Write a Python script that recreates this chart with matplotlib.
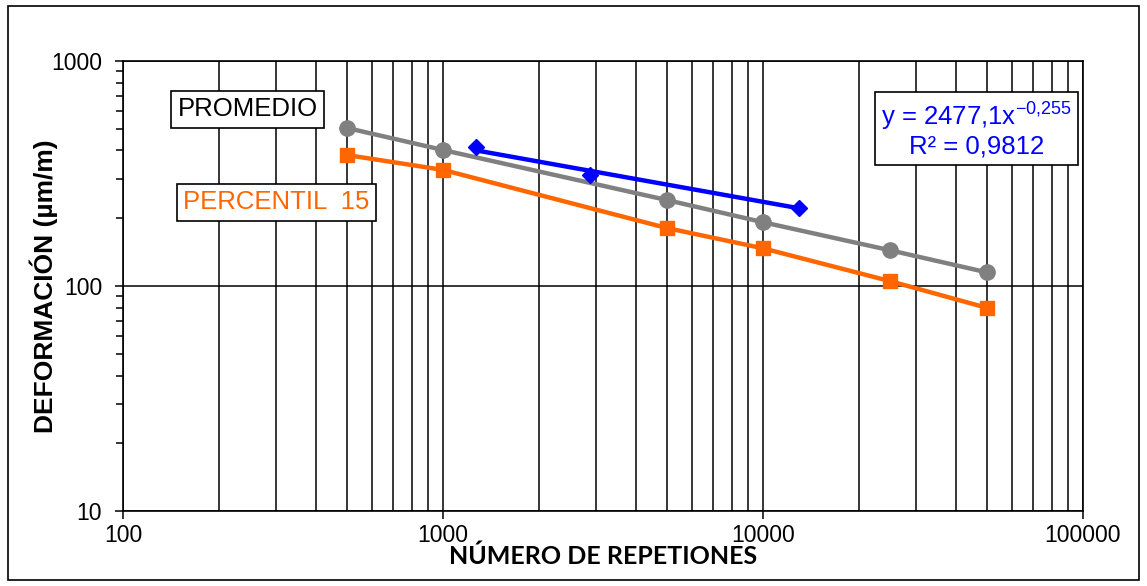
import matplotlib
matplotlib.use('Agg')
import matplotlib.pyplot as plt
import numpy as np
from matplotlib.ticker import FixedLocator, LogLocator, NullFormatter

plt.rcParams['font.family'] = ['Liberation Sans', 'DejaVu Sans']
plt.rcParams['mathtext.fontset'] = 'custom'
plt.rcParams['mathtext.rm'] = 'Liberation Sans'
plt.rcParams['mathtext.default'] = 'regular'

# data
ciclos = [500, 1000, 5000, 10000, 25000, 50000]
promedio = [504, 402, 241, 192, 144, 115]
percentil15 = [382, 328, 181, 147, 105, 80]

ciclos_ajuste = [1268, 2878, 13000]
def_ajuste = [415, 311, 222]
coef_a, coef_b = 2477.1, -0.255   # trendline from the chart label

fig = plt.figure(figsize=(11.47, 5.86), dpi=100)
ax = fig.add_axes([0.1072, 0.128, 0.837, 0.768])

# outer frame round the whole chart
fig.patches.append(plt.Rectangle((0.007, 0.01), 0.986, 0.98, transform=fig.transFigure,
                                 fill=False, edgecolor='black', lw=1.2))

ax.set_xscale('log')
ax.set_yscale('log')
ax.set_xlim(100, 100000)
ax.set_ylim(10, 1000)

ax.xaxis.set_major_locator(FixedLocator([100, 1000, 10000, 100000]))
ax.xaxis.set_minor_locator(LogLocator(base=10, subs=np.arange(2, 10)))
ax.xaxis.set_minor_formatter(NullFormatter())
ax.set_xticklabels(['100', '1000', '10000', '100000'])
ax.yaxis.set_major_locator(FixedLocator([10, 100, 1000]))
ax.yaxis.set_minor_locator(LogLocator(base=10, subs=np.arange(2, 10)))
ax.yaxis.set_minor_formatter(NullFormatter())
ax.set_yticklabels(['10', '100', '1000'])

ax.grid(True, which='major', axis='both', color='black', lw=1.1)
ax.grid(True, which='minor', axis='x', color='black', lw=1.1)
ax.tick_params(axis='both', which='major', labelsize=16.5, length=6, direction='out', width=1.1)
ax.tick_params(axis='y', which='major', pad=9)
ax.tick_params(axis='y', which='minor', length=5, direction='out', width=1.1)
ax.tick_params(axis='x', which='minor', length=0)
for s in ax.spines.values():
    s.set_linewidth(1.2)
ax.set_axisbelow(True)

ax.plot(ciclos, promedio, color='#808080', lw=3.2, marker='o', ms=11, zorder=3)
ax.plot(ciclos, percentil15, color='#FF6600', lw=3.2, marker='s', ms=10, zorder=3)

xs = np.array([ciclos_ajuste[0], ciclos_ajuste[-1]])
ax.plot(xs, coef_a * xs ** coef_b, color='#0000FF', lw=3.2, zorder=4)
ax.plot(ciclos_ajuste, def_ajuste, color='#0000FF', lw=0, marker='D', ms=8, zorder=5)

ax.set_xlabel('NÚMERO DE REPETIONES', fontsize=18, fontweight='bold', family='Lato', labelpad=-2)
ax.set_ylabel('DEFORMACIÓN (µm/m)', fontsize=19, fontweight='bold', va='center')
ax.yaxis.set_label_coords(-0.082, 0.5)

box = dict(boxstyle='square,pad=0.25', facecolor='white', edgecolor='black', lw=1.2)
ax.text(0.130, 0.893, 'PROMEDIO', transform=ax.transAxes, fontsize=18.5, color='black',
        ha='center', va='center', bbox=box)
ax.text(0.160, 0.686, 'PERCENTIL  15', transform=ax.transAxes, fontsize=18.5, color='#FF6600',
        ha='center', va='center', bbox=box)
ax.text(0.889, 0.847, 'y = 2477,1x$^{-0{,}255}$\nR² = 0,9812', transform=ax.transAxes,
        fontsize=18.5, color='#0000FF', ha='center', va='center', linespacing=1.1,
        bbox=dict(boxstyle='square,pad=0.25', facecolor='white', edgecolor='black', lw=1.2))

fig.savefig('out.png', dpi=100)
